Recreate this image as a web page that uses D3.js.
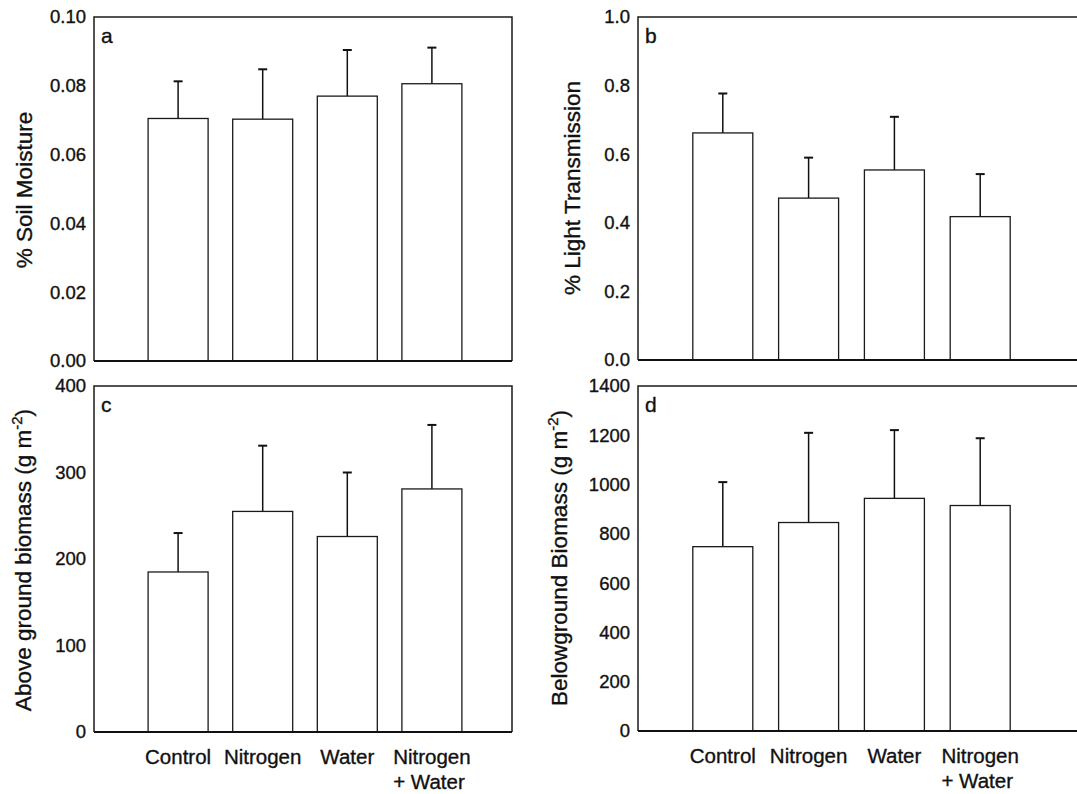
<!DOCTYPE html>
<html>
<head>
<meta charset="utf-8">
<script src="https://cdn.jsdelivr.net/npm/d3@7"></script>
<style>
  body { margin: 0; background: #fff; }
  svg { display: block; font-family: "Liberation Sans", Arial, sans-serif; }
  svg text { stroke: #111; stroke-width: 0.35px; }
  .tick text { font-size: 18.5px; fill: #111; }
</style>
</head>
<body>
<div class="grafico"></div>
<script>
/* treatments (x axis) */
const categories = [["Control"], ["Nitrogen"], ["Water"], ["Nitrogen", "+ Water"]];
const catKeys = ["Control", "Nitrogen", "Water", "Nitrogen + Water"];

/* a - soil moisture */
const soilMoisture = [0.0705, 0.0703, 0.0770, 0.0806];
const soilMoistureSE = [0.0108, 0.0145, 0.0134, 0.0105];
const soilTicks = [0, 0.02, 0.04, 0.06, 0.08, 0.10];

/* b - light transmission */
const lightTrans = [0.662, 0.472, 0.554, 0.418];
const lightTransSE = [0.115, 0.118, 0.155, 0.124];
const lightTicks = [0, 0.2, 0.4, 0.6, 0.8, 1.0];

/* c - aboveground biomass */
const aboveBiomass = [185, 255, 226, 281];
const aboveBiomassSE = [45, 76, 74, 74];
const aboveTicks = [0, 100, 200, 300, 400];

/* d - belowground biomass */
const belowBiomass = [748, 846, 944, 915];
const belowBiomassSE = [262, 364, 277, 273];
const belowTicks = [0, 200, 400, 600, 800, 1000, 1200, 1400];

const W = 1077, H = 794;

/* paneles: posición y estilo */
const panels = [
  { letter: 'a', values: soilMoisture, se: soilMoistureSE, ticks: soilTicks, fmt: '.2f',
    left: 94, right: 512, top: 17, bottom: 361, xr: [93.5, 516.5], titleX: 32, titleY: 190,
    title: ['% Soil Moisture'], xLabels: false },
  { letter: 'b', values: lightTrans, se: lightTransSE, ticks: lightTicks, fmt: '.1f',
    left: 638, right: 1100, top: 17, bottom: 360, xr: [637, 1066], titleX: 580, titleY: 188,
    title: ['% Light Transmission'], xLabels: false },
  { letter: 'c', values: aboveBiomass, se: aboveBiomassSE, ticks: aboveTicks, fmt: 'd',
    left: 94, right: 512, top: 386, bottom: 732, xr: [93.5, 516.5], titleX: 31, titleY: 560,
    title: ['Above ground biomass (g m', '-2', ')'], xLabels: true },
  { letter: 'd', values: belowBiomass, se: belowBiomassSE, ticks: belowTicks, fmt: 'd',
    left: 638, right: 1100, top: 386, bottom: 731, xr: [637, 1066], titleX: 567, titleY: 558,
    title: ['Belowground Biomass (g m', '-2', ')'], xLabels: true }
];

const svg = d3.select('.grafico')
  .append('svg')
  .attr('width', W)
  .attr('height', H);

panels.forEach(p => {
  const g = svg.append('g');
  const maxV = p.ticks[p.ticks.length - 1];

  const x = d3.scalePoint().domain(catKeys).range(p.xr).padding(1);
  const y = d3.scaleLinear().domain([0, maxV]).range([p.bottom, p.top]);
  const barW = 60;
  const capW = 9;

  const rows = catKeys.map((k, i) => ({ key: k, v: p.values[i], se: p.se[i] }));

  /* error bars (behind bars) */
  g.selectAll('.err')
    .data(rows)
    .join('line')
    .attr('x1', d => x(d.key))
    .attr('x2', d => x(d.key))
    .attr('y1', d => y(d.v))
    .attr('y2', d => y(d.v + d.se))
    .attr('stroke', '#111')
    .attr('stroke-width', 1.5);

  g.selectAll('.cap')
    .data(rows)
    .join('line')
    .attr('x1', d => x(d.key) - capW / 2)
    .attr('x2', d => x(d.key) + capW / 2)
    .attr('y1', d => y(d.v + d.se))
    .attr('y2', d => y(d.v + d.se))
    .attr('stroke', '#111')
    .attr('stroke-width', 2);

  /* bars */
  g.selectAll('.bar')
    .data(rows)
    .join('rect')
    .attr('x', d => x(d.key) - barW / 2)
    .attr('y', d => y(d.v))
    .attr('width', barW)
    .attr('height', d => y(0) - y(d.v))
    .attr('fill', '#fff')
    .attr('stroke', '#1a1a1a')
    .attr('stroke-width', 1.3);

  /* frame */
  g.append('path')
    .attr('d', `M${p.left},${p.bottom}V${p.top}H${p.right}V${p.bottom}`)
    .attr('fill', 'none')
    .attr('stroke', '#1a1a1a')
    .attr('stroke-width', 1.5);
  g.append('line')
    .attr('x1', p.left).attr('x2', p.right)
    .attr('y1', y(0)).attr('y2', y(0))
    .attr('stroke', '#111')
    .attr('stroke-width', 2.2);

  /* y axis labels */
  const yAxis = d3.axisLeft(y)
    .tickValues(p.ticks)
    .tickFormat(d3.format(p.fmt))
    .tickSize(0)
    .tickPadding(8);
  g.append('g')
    .attr('transform', `translate(${p.left},0)`)
    .call(yAxis)
    .call(a => a.select('.domain').remove())
    .selectAll('text')
    .attr('font-family', '"Liberation Sans", Arial, sans-serif');

  /* y title */
  const t = g.append('text')
    .attr('transform', `translate(${p.titleX},${p.titleY}) rotate(-90)`)
    .attr('text-anchor', 'middle')
    .attr('font-size', 22.5)
    .attr('fill', '#111');
  t.append('tspan').text(p.title[0]);
  if (p.title.length > 1) {
    t.append('tspan').attr('font-size', 15).attr('dy', -9).text(p.title[1]);
    t.append('tspan').attr('dy', 9).text(p.title[2]);
  }

  /* panel letter */
  g.append('text')
    .attr('x', p.left + 7)
    .attr('y', p.top + 26)
    .attr('font-size', 21)
    .attr('fill', '#111')
    .text(p.letter);

  /* x labels */
  if (p.xLabels) {
    categories.forEach((lines, i) => {
      const cx = x(catKeys[i]);
      const lab = g.append('text')
        .attr('font-size', 20.5)
        .attr('fill', '#111');
      const first = lab.append('tspan').attr('y', p.bottom + 32).text(lines[0]);
      const w0 = first.node().getComputedTextLength();
      first.attr('x', cx - w0 / 2);
      lines.slice(1).forEach((l, j) => {
        lab.append('tspan')
          .attr('x', cx - w0 / 2)
          .attr('y', p.bottom + 32 + 25 * (j + 1))
          .text(l);
      });
    });
  }
});
</script>
</body>
</html>
